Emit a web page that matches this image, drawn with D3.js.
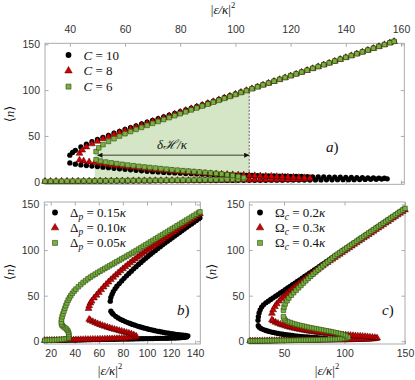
<!DOCTYPE html>
<html>
<head>
<meta charset="utf-8">
<script src="https://d3js.org/d3.v7.min.js"></script>
<style>
body { margin: 0; background: #fff; }
</style>
</head>
<body>
<script>
// ---------- panel a) data : C = 10, 8, 6 ----------
const aLowX = [31,33,35,37,39,41,43,45,47,49,51,53,55,57,59,61,63,65,67,69,71,73,75,77,79,81,83,85,87,89,91,93,95,97,99,101,103,105,107,109,111,113,115,117,119,121,123,125,127,129,131,133,135,137,139,141,143,145,147,149,151,153,155];
const aLowN10 = [0.3,0.3,0.4,0.4,0.4,0.5,0.5,0.5,0.6,0.6,0.6,0.7,0.7,0.7,0.8,0.8,0.8,0.9,0.9,0.9,1.0,1.0,1.0,1.1,1.1,1.1,1.2,1.2,1.2,1.3,1.3,1.3,1.4,1.4,1.4,1.5,1.5,1.5,1.6,1.6,1.6,1.7,1.7,1.7,1.8,1.8,1.8,1.9,1.9,2.0,2.0,2.1,2.1,2.2,2.2,2.3,2.3,2.4,2.5,2.6,2.7,2.9,3.2];
const aLowN8 = [0.4,0.4,0.5,0.5,0.5,0.6,0.6,0.7,0.7,0.7,0.8,0.8,0.9,0.9,0.9,1.0,1.0,1.1,1.1,1.1,1.2,1.2,1.3,1.3,1.3,1.4,1.4,1.5,1.5,1.5,1.6,1.6,1.7,1.7,1.8,1.8,1.9,1.9,2.0,2.0,2.1,2.2,2.2,2.3,2.4,2.5,2.6,2.8,3.1];
const aLowN6 = [0.5,0.5,0.6,0.6,0.7,0.7,0.8,0.8,0.9,0.9,1.0,1.0,1.1,1.1,1.2,1.2,1.3,1.3,1.4,1.4,1.5,1.5,1.6,1.6,1.7,1.8,1.8,1.9,2.0,2.1,2.1,2.2,2.3,2.5,2.6,2.8,3.2];
const aMid10 = [[154,3.8],[152,4.0],[150,4.2],[148,4.3],[146,4.4],[144,4.5],[142,4.6],[140,4.8],[138,4.9],[136,5.0],[134,5.1],[132,5.2],[130,5.3],[128,5.4],[126,5.5],[124,5.7],[122,5.8],[120,5.9],[118,6.0],[116,6.2],[114,6.3],[112,6.4],[110,6.5],[108,6.7],[106,6.8],[104,7.0],[102,7.1],[100,7.2],[98,7.4],[96,7.6],[94,7.7],[92,7.9],[90,8.1],[88,8.3],[86,8.5],[84,8.8],[82,9.0],[80,9.3],[78,9.6],[76,9.9],[74,10.2],[72,10.6],[70,11],[68,11.4],[66,11.9],[64,12.4],[62,13],[60,13.5],[58,14.1],[56,14.7],[54,15.3],[52,15.9],[50,16.5],[48,17.1],[46,17.7],[44,18.4],[42,19.2],[40,20.5]];
const aUp10 = [[40,29],[41,32],[42,34.3],[44,38],[46,41],[48,43.7],[50,46.2],[52,48.5],[54,50.7],[56,52.9],[58,55],[60,57],[62,59],[64,61],[66,63],[68,65],[70,67],[72,68.9],[74,70.8],[76,72.7],[78,74.6],[80,76.5],[82,78.4],[84,80.3],[86,82.2],[88,84.1],[90,86],[92,88],[94,90],[96,92],[98,94],[100,96],[102,98],[104,100],[106,102],[108,104],[110,106],[112,108],[114,110],[116,112],[118,114],[120,116],[122,118],[124,120],[126,122],[128,124],[130,126],[132,128],[134,130],[136,132],[138,134],[140,136],[142,138],[144,140],[146,142],[148,144],[150,146],[152,148],[154,150],[156,152],[157.5,153.5]];
const aMid8 = [[127,3.9],[125,4.3],[123,4.6],[121,4.9],[119,5.2],[117,5.4],[115,5.6],[113,5.9],[111,6.1],[109,6.3],[107,6.6],[105,6.8],[103,7.1],[101,7.3],[99,7.6],[97,7.9],[95,8.2],[93,8.5],[91,8.8],[89,9.1],[87,9.5],[85,9.9],[83,10.3],[81,10.7],[79,11.1],[77,11.6],[75,12.1],[73,12.6],[71,13.1],[69,13.7],[67,14.3],[65,14.9],[63,15.5],[61,16.2],[59,16.9],[57,17.6],[55,18.3],[53,19.1],[51,19.9],[49,20.7],[47,21.6],[45,22.6],[43.5,23.6]];
const aUp8 = [[43.5,31],[44.5,34.5],[46,38],[48,41.3],[50,44.2],[52,46.8],[54,49.2],[56,51.5],[58,53.7],[60,55.8],[62,57.8],[64,59.8],[66,61.8],[68,63.8],[70,65.8],[72,67.8],[74,69.8],[76,71.8],[78,73.8],[80,75.8],[82,77.8],[84,79.7],[86,81.6],[88,83.5],[90,85.4],[92,87.4],[94,89.4],[96,91.4],[98,93.4],[100,95.5],[102,97.5],[104,99.5],[106,101.5],[108,103.5],[110,105.5],[112,107.5],[114,109.5],[116,111.5],[118,113.5],[120,115.5],[122,117.5],[124,119.5],[126,121.5],[128,123.5],[130,125.5],[132,127.5],[134,129.5],[136,131.5],[138,133.5],[140,135.5],[142,137.5],[144,139.5],[146,141.5],[148,143.5],[150,145.5],[152,147.5],[154,149.5],[156,151.5],[157.5,153]];
const aMid6 = [[103,4.6],[101,5.8],[99,6.9],[97,7.7],[95,8.4],[93,9.0],[91,9.6],[89,10.1],[87,10.6],[85,11.1],[83,11.6],[81,12.1],[79,12.6],[77,13.1],[75,13.7],[73,14.3],[71,14.9],[69,15.5],[67,16.1],[65,16.8],[63,17.5],[61,18.2],[59,19.0],[57,19.8],[55,20.6],[53,21.5],[51,22.6],[49.5,24]];
const aUp6 = [[49.5,33],[50.5,37],[52,40.5],[54,44],[56,47],[58,49.8],[60,52.4],[62,54.8],[64,57.1],[66,59.3],[68,61.5],[70,63.7],[72,65.8],[74,67.9],[76,70],[78,72.1],[80,74.2],[82,76.3],[84,78.4],[86,80.5],[88,82.6],[90,84.7],[92,86.8],[94,88.9],[96,91],[98,93.1],[100,95.2],[102,97.3],[104,99.4],[106,101.5],[108,103.6],[110,105.7],[112,107.7],[114,109.7],[116,111.7],[118,113.7],[120,115.7],[122,117.7],[124,119.7],[126,121.7],[128,123.7],[130,125.7],[132,127.7],[134,129.7],[136,131.7],[138,133.7],[140,135.7],[142,137.7],[144,139.7],[146,141.7],[148,143.7],[150,145.7],[152,147.7],[154,149.7],[156,151.7],[157.5,153.2]];
const hystLeft = 49, hystRight = 105, arrowN = 29;

// ---------- panel b) data : Delta_p = 0.15, 0.10, 0.05 kappa ----------
const bLowX = [15,17,19,21,23,25,27,29,31,33,35,37,39,41,43,45,47,49,51,53,55,57,59,61,63,65,67,69,71,73,75,77,79,81,83,85,87,89,91,93,95,97,99,101,103,105,107,109,111,113,115,117,119,121,123,125,127,129,131,133];
const bLowN15 = [0.8,0.8,0.9,0.9,1.0,1.0,1.1,1.1,1.2,1.2,1.3,1.3,1.4,1.4,1.5,1.5,1.6,1.6,1.7,1.7,1.8,1.8,1.9,1.9,2.0,2.0,2.1,2.1,2.2,2.2,2.3,2.3,2.4,2.4,2.5,2.5,2.6,2.6,2.7,2.7,2.8,2.8,2.9,2.9,3.0,3.0,3.1,3.1,3.2,3.2,3.3,3.3,3.4,3.5,3.6,3.7,3.8,4.0,4.2,4.6];
const bLowN10 = [0.9,0.9,1.0,1.0,1.1,1.1,1.2,1.2,1.3,1.4,1.4,1.5,1.5,1.6,1.7,1.7,1.8,1.9,1.9,2.0,2.1,2.1,2.2,2.3,2.3,2.4,2.5,2.6,2.7,2.8,2.9,3.0,3.1,3.2,3.4,3.6,3.8,4.2,4.8];
const bLowN05 = [1.0,1.1,1.2,1.3,1.4,1.6,1.8,2.0,2.3,2.7,3.3];
const bMid15 = [[134,6],[132,6.4],[130,6.7],[128,7],[126,7.3],[124,7.6],[122,8],[120,8.4],[118,8.8],[116,9.2],[114,9.7],[112,10.2],[110,10.7],[108,11.2],[106,11.8],[104,12.4],[102,13],[100,13.7],[98,14.4],[96,15.1],[94,15.9],[92,16.7],[90,17.6],[88,18.5],[86,19.5],[84,20.5],[82,21.6],[80,22.8],[78,24.1],[76,25.6],[74,27.3],[72,29.5],[71,31],[70,33]];
const bUp15 = [[69.5,44],[70,48],[71,51.5],[72,54.5],[73.5,57.5],[75,60.3],[77,63.3],[79,66.2],[81,69],[83,71.7],[85,74.3],[87,76.9],[89,79.4],[91,81.8],[93,84.2],[95,86.5],[97,88.8],[99,91],[101,93.2],[103,95.4],[105,97.5],[107,99.6],[109,101.7],[111,103.7],[113,105.7],[115,107.7],[117,109.7],[119,111.6],[121,113.5],[123,115.4],[125,117.3],[127,119.2],[129,121.1],[131,123],[133,124.9],[135,126.8],[137,128.7],[139,130.6],[141,132.5],[143,134.4],[144,135.3]];
const bMid10 = [[91,5.5],[89,7],[87,8],[85,8.8],[83,9.5],[81,10.2],[79,10.9],[77,11.6],[75,12.3],[73,13],[71,13.8],[69,14.6],[67,15.4],[65,16.3],[63,17.2],[61,18.2],[59,19.2],[57,20.3],[55,21.5],[53,22.8],[52,24]];
const bUp10 = [[51.5,36],[52,39],[53,42],[54,44],[56,47.5],[58,50.5],[60,53.5],[62,56.5],[64,59.5],[66,62.3],[68,65],[70,67.6],[72,70.1],[74,72.5],[76,74.9],[78,77.2],[80,79.5],[82,81.7],[84,83.9],[86,86],[88,88.1],[90,90.1],[92,92.1],[94,94],[96,95.9],[98,97.8],[100,99.7],[102,101.5],[104,103.3],[106,105.1],[108,106.9],[110,108.6],[112,110.4],[114,112.3],[116,114.1],[118,116],[120,117.8],[122,119.6],[124,121.5],[126,123.3],[128,125.2],[130,127],[132,128.8],[134,130.7],[136,132.5],[138,134.4],[140,136.2],[142,138],[144,139.9]];
const bMid05 = [[35,4],[35.2,6],[35.1,8],[34.7,10],[34,12],[33,13.5],[31.8,14.8],[30.5,16],[29.5,17.5],[29,19]];
const bUp05 = [[28.8,21],[29,24],[29.5,27],[30.2,30],[31,33],[31.8,36],[32.6,39],[33.5,42],[34.5,45],[35.5,47.5],[36.7,50],[38,52.5],[39.5,55],[41,57.2],[43,59.8],[45,62.2],[47,64.5],[49,66.5],[51,68.5],[53,70.3],[55,72],[57,73.6],[59,75.2],[61,76.8],[63,78.3],[65,79.8],[67,81.3],[69,82.8],[71,84.3],[73,85.8],[75,87.3],[77,88.8],[79,90.3],[81,91.8],[83,93.3],[85,94.8],[87,96.3],[89,97.8],[91,99.4],[93,101],[95,102.6],[97,104.2],[99,105.8],[101,107.4],[103,109],[105,110.6],[107,112.2],[109,113.8],[111,115.4],[113,117],[115,118.6],[117,120.2],[119,121.8],[121,123.4],[123,125],[125,126.6],[127,128.2],[129,129.8],[131,131.4],[133,133],[135,134.6],[137,136.2],[139,137.8],[141,139.4],[143,141],[144,141.8]];

// ---------- panel c) data : Omega_c = 0.2, 0.3, 0.4 kappa ----------
const cLowX = [22,24,26,28,30,32,34,36,38,40,42,44,46,48,50,52,54,56,58,60,62,64,66,68,70,72,74,76,78,80,82,84,86,88,90,92,94,96,98,100,102,104,106,108,110,112,114,116,118,120,122,124,126];
const cLowN02 = [0.3,0.3,0.4,0.4,0.5,0.5,0.6,0.6,0.7,0.7,0.8,0.8,0.9,0.9,1.0,1.0,1.1,1.1,1.2,1.2,1.3,1.3,1.4,1.4,1.5,1.6,1.7,1.8,1.9,2.0,2.2,2.5];
const cLowN03 = [0.3,0.3,0.4,0.4,0.4,0.5,0.5,0.5,0.6,0.6,0.6,0.7,0.7,0.7,0.8,0.8,0.8,0.9,0.9,0.9,1.0,1.0,1.0,1.1,1.1,1.1,1.2,1.2,1.2,1.3,1.3,1.3,1.4,1.4,1.4,1.5,1.5,1.5,1.6,1.6,1.7,1.7,1.8,1.8,1.9,1.9,2.0,2.1,2.2,2.3,2.4,2.6,3.0];
const cLowN04 = [0.3,0.3,0.4,0.4,0.5,0.5,0.5,0.6,0.6,0.7,0.7,0.8,0.8,0.8,0.9,0.9,1.0,1.0,1.1,1.1,1.2,1.2,1.3,1.3,1.4,1.4,1.5,1.5,1.6,1.7,1.8,1.8,1.9,2.0,2.1,2.2,2.3,2.5,2.7,3.0,3.5];
const cMid02 = [[85,3],[83,3.3],[81,3.5],[79,3.7],[77,3.9],[75,4.1],[73,4.3],[71,4.5],[69,4.7],[67,4.9],[65,5.1],[63,5.4],[61,5.7],[59,6],[57,6.3],[55,6.6],[53,6.9],[51,7.3],[49,7.7],[47,8.1],[45,8.6],[43,9.1],[41,9.7],[39,10.3],[37,11],[35,11.8],[33,12.8],[31,14],[29.5,15.5],[28.7,17]];
const cUp02 = [[28.5,23],[28.8,27],[29.4,31],[30.3,34.5],[31.5,37.5],[33,40],[35,42.2],[37,44],[39,45.8],[41,47.6],[43,49.4],[45,51.2],[47,53],[49,54.8],[51,56.6],[53,58.4],[55,60.2],[57,62],[59,63.8],[61,65.6],[63,67.4],[65,69.2],[67,71],[69,72.8],[71,74.6],[73,76.4],[75,78.2],[77,80],[79,81.8],[81,83.6],[83,85.4],[85,87.2],[87,89],[89,90.8],[91,92.6],[93,94.4],[95,96.2],[97,98],[99,99.8],[101,101.6],[103,103.4],[105,105.2],[107,107],[109,108.8],[111,110.6],[113,112.4],[115,114.2],[117,116],[119,117.8],[121,119.6],[123,121.4],[125,123.2],[127,125],[129,126.8],[131,128.6],[133,130.4],[135,132.2],[137,134],[139,135.8],[141,137.6],[143,139.4],[145,141.2],[147,143],[149,144.8]];
const cMid03 = [[127,3.5],[125,4],[123,4.3],[121,4.6],[119,4.9],[117,5.1],[115,5.3],[113,5.5],[111,5.7],[109,5.9],[107,6.1],[105,6.3],[103,6.5],[101,6.7],[99,6.9],[97,7.1],[95,7.4],[93,7.6],[91,7.9],[89,8.1],[87,8.4],[85,8.7],[83,9],[81,9.3],[79,9.6],[77,9.9],[75,10.3],[73,10.7],[71,11.1],[69,11.5],[67,12],[65,12.5],[63,13],[61,13.5],[59,14.1],[57,14.7],[55,15.4],[53,16.1],[51,16.9],[49,17.7],[47,18.6],[45,19.6],[43,20.8],[41,22.2],[40,23.5]];
const cUp03 = [[40,30.6],[41,34.5],[42.5,38],[44,41],[46,44],[48,46.8],[50,49.4],[52,51.9],[54,54.3],[56,56.6],[58,58.8],[60,61],[62,63.1],[64,65.1],[66,67.1],[68,69.1],[70,71],[72,73],[74,75],[76,77],[78,79],[80,80.9],[82,82.8],[84,84.6],[86,86.4],[88,88.2],[90,90],[92,91.8],[94,93.6],[96,95.4],[98,97.2],[100,99],[102,100.8],[104,102.6],[106,104.4],[108,106.2],[110,108],[112,109.8],[114,111.6],[116,113.4],[118,115.2],[120,117],[122,118.8],[124,120.6],[126,122.4],[128,124.2],[130,126],[132,127.8],[134,129.6],[136,131.4],[138,133.2],[140,135],[142,136.8],[144,138.6],[146,140.4],[148,142.2],[150,144]];
const cMid04 = [[103,4.5],[101,6.2],[99,7.2],[97,8],[95,8.7],[93,9.3],[91,9.9],[89,10.5],[87,11],[85,11.5],[83,12],[81,12.5],[79,13],[77,13.5],[75,14],[73,14.5],[71,15],[69,15.6],[67,16.2],[65,16.8],[63,17.4],[61,18.1],[59,18.8],[57,19.6],[55,20.5],[53,21.6],[51,23],[50,24.8],[49.5,27]];
const cUp04 = [[49.5,34],[50,37.5],[51,41],[52.5,44.5],[54,47.5],[56,50.5],[58,53.3],[60,56],[62,58.6],[64,61.2],[66,63.8],[68,66.3],[70,68.8],[72,71.2],[74,73.6],[76,76],[78,78.3],[80,80.6],[82,82.8],[84,85],[86,87.1],[88,89.2],[90,91.3],[92,93.4],[94,95.3],[96,97.1],[98,98.9],[100,100.7],[102,102.5],[104,104.3],[106,106.1],[108,107.9],[110,109.7],[112,111.5],[114,113.3],[116,115.1],[118,116.9],[120,118.7],[122,120.5],[124,122.3],[126,124.1],[128,125.9],[130,127.7],[132,129.5],[134,131.3],[136,133.1],[138,134.9],[140,136.7],[142,138.5],[144,140.3],[146,142.1],[148,143.9],[150,145.7]];

// ---------- tick labels ----------
const nTicks = [0, 50, 100, 150];
const aXTicks = [40, 60, 80, 100, 120, 140, 160];
const bXTicks = [20, 40, 60, 80, 100, 120, 140];
const cXTicks = [50, 100, 150];

const serif = '"Liberation Serif", "DejaVu Serif", serif';
const sans = '"Liberation Sans", Arial, sans-serif';

const svg = d3.select('body').append('svg')
    .attr('width', 415)
    .attr('height', 380);

const styles = [
    { type: d3.symbolCircle, size: 22, fill: '#000', stroke: 'none', sw: 0 },
    { type: d3.symbolTriangle, size: 20, fill: '#d40000', stroke: '#3a0000', sw: 0.5 },
    { type: d3.symbolSquare, size: 21, fill: '#79b03e', stroke: '#2e4a12', sw: 0.6 }
];

function pairs(xs, ns) {
    return d3.zip(xs, ns);
}

// text with italic / sub / sup pieces
function mathText(g, x, y, parts, size, anchor) {
    const t = g.append('text')
        .attr('x', x).attr('y', y)
        .attr('font-family', serif)
        .attr('font-size', size)
        .attr('fill', '#111')
        .attr('text-anchor', anchor || 'start');
    parts.forEach(p => {
        const s = t.append('tspan').text(p.t);
        if (p.i) s.attr('font-style', 'italic');
        if (p.dy) s.attr('dy', p.dy);
        if (p.fs) s.attr('font-size', p.fs);
    });
    return t;
}

const nLabel = [{ t: '\u27E8' }, { t: 'n', i: 1 }, { t: '\u27E9' }];
const epsLabel = [{ t: '|' }, { t: '\u03B5/\u03BA', i: 1 }, { t: '|' }, { t: '2', dy: -6, fs: 8.5 }];

function drawPanel(p) {
    const x = d3.scaleLinear().domain(p.xDomain).range([p.left, p.right]);
    const y = d3.scaleLinear().domain(p.yDomain).range([p.bottom, p.top]);
    const g = svg.append('g');

    if (p.extras) p.extras(g, x, y);

    // frame
    g.append('rect')
        .attr('x', p.left).attr('y', p.top)
        .attr('width', p.right - p.left).attr('height', p.bottom - p.top)
        .attr('fill', 'none').attr('stroke', '#a3a3a3').attr('stroke-width', 0.9);

    const axes = [
        [d3.axisLeft(y).tickValues(nTicks).tickSize(-3.5).tickPadding(5), `translate(${p.left},0)`, true],
        [d3.axisRight(y).tickValues(nTicks).tickSize(-3.5).tickFormat(''), `translate(${p.right},0)`, false],
        [d3.axisTop(x).tickValues(p.xTicks).tickSize(-3.5).tickPadding(10), `translate(0,${p.top})`, p.xTop],
        [d3.axisBottom(x).tickValues(p.xTicks).tickSize(-3.5).tickPadding(6), `translate(0,${p.bottom})`, !p.xTop]
    ];
    axes.forEach(([ax, tr, labels]) => {
        if (!labels) ax.tickFormat('');
        const a = g.append('g').attr('transform', tr).call(ax);
        a.select('.domain').remove();
        a.selectAll('line').attr('stroke', '#a3a3a3').attr('stroke-width', 0.9);
        a.selectAll('text').attr('font-family', sans).attr('font-size', 10.5).attr('fill', '#333');
    });

    // markers, black first then red then green
    p.series.forEach((branches, si) => {
        const st = styles[si];
        const sym = d3.symbol().type(st.type).size(st.size);
        branches.forEach(br => {
            g.append('g').selectAll('path')
                .data(br)
                .join('path')
                .attr('d', sym)
                .attr('transform', d => `translate(${x(d[0])},${y(d[1])})`)
                .attr('fill', st.fill)
                .attr('stroke', st.stroke)
                .attr('stroke-width', st.sw);
        });
    });

    // legend
    p.legend.forEach((parts, i) => {
        const st = styles[i];
        const ly = p.legY + i * p.legDy;
        g.append('path')
            .attr('d', d3.symbol().type(st.type).size(st.size + 4)())
            .attr('transform', `translate(${p.legX},${ly})`)
            .attr('fill', st.fill).attr('stroke', st.stroke).attr('stroke-width', st.sw);
        mathText(g, p.legX + 15, ly + 4.5, parts, 13);
    });

    // panel tag
    mathText(g, p.tag[0], p.tag[1], [{ t: p.tag[2], i: 1 }, { t: ')' }], 15);

    // axis labels
    const yl = g.append('g').attr('transform', `translate(${p.yLab[0]},${p.yLab[1]}) rotate(-90)`);
    mathText(yl, 0, 0, nLabel, 13, 'middle');
    mathText(g, p.xLab[0], p.xLab[1], epsLabel, 13, 'middle');
}

// arrow heads
const defs = svg.append('defs');
['start', 'end'].forEach(k => {
    defs.append('marker')
        .attr('id', 'arr-' + k)
        .attr('viewBox', '0 0 10 10')
        .attr('refX', k === 'end' ? 10 : 0).attr('refY', 5)
        .attr('markerWidth', 7).attr('markerHeight', 5)
        .attr('markerUnits', 'userSpaceOnUse')
        .attr('orient', 'auto')
        .append('path')
        .attr('d', k === 'end' ? 'M0,0 L10,5 L0,10 z' : 'M10,0 L0,5 L10,10 z')
        .attr('fill', '#111');
});

// ---- panel a ----
drawPanel({
    left: 45, right: 404.3, top: 43.3, bottom: 184.3,
    xDomain: [31, 161.2], yDomain: [-2.8, 151.1],
    xTicks: aXTicks, xTop: true,
    series: [
        [pairs(aLowX, aLowN10), aMid10, aUp10],
        [pairs(aLowX, aLowN8), aMid8, aUp8],
        [pairs(aLowX, aLowN6), aMid6, aUp6]
    ],
    legend: [
        [{ t: 'C', i: 1 }, { t: ' = 10' }],
        [{ t: 'C', i: 1 }, { t: ' = 8' }],
        [{ t: 'C', i: 1 }, { t: ' = 6' }]
    ],
    legX: 68.5, legY: 55, legDy: 15.8,
    tag: [326, 152, 'a'],
    yLab: [14, 114],
    xLab: [223, 14],
    extras: (g, x, y) => {
        // shaded hysteresis area under the C = 6 upper branch
        const up = aUp6.filter(d => d[0] <= hystRight);
        const i = d3.bisector(d => d[0]).left(aUp6, hystRight);
        const a0 = aUp6[i - 1], a1 = aUp6[i];
        const topR = a0[1] + (a1[1] - a0[1]) * (hystRight - a0[0]) / (a1[0] - a0[0]);
        const poly = [[hystLeft, 0], [hystLeft, up[0][1]]].concat(up, [[hystRight, topR], [hystRight, 0]]);
        g.append('path')
            .attr('d', d3.line().x(d => x(d[0])).y(d => y(d[1]))(poly) + 'Z')
            .attr('fill', '#d5e6c6');
        g.append('line')
            .attr('x1', x(hystRight)).attr('x2', x(hystRight))
            .attr('y1', y(0)).attr('y2', y(topR))
            .attr('stroke', '#222').attr('stroke-width', 0.7)
            .attr('stroke-dasharray', '2,1.5');
        g.append('line')
            .attr('x1', x(hystLeft + 1)).attr('x2', x(hystRight))
            .attr('y1', y(arrowN)).attr('y2', y(arrowN))
            .attr('stroke', '#111').attr('stroke-width', 0.8)
            .attr('marker-start', 'url(#arr-start)')
            .attr('marker-end', 'url(#arr-end)');
        mathText(g, x((hystLeft + hystRight) / 2), y(arrowN) - 6,
            [{ t: '\u03B4\u210B/\u03BA', i: 1 }], 13, 'middle');
    }
});

// ---- panel b ----
drawPanel({
    left: 44.3, right: 200.3, top: 202, bottom: 344,
    xDomain: [14.7, 144.3], yDomain: [-3, 152.7],
    xTicks: bXTicks, xTop: false,
    series: [
        [pairs(bLowX, bLowN15), bMid15, bUp15],
        [pairs(bLowX, bLowN10), bMid10, bUp10],
        [pairs(bLowX, bLowN05), bMid05, bUp05]
    ],
    legend: [
        [{ t: '\u0394' }, { t: 'p', i: 1, dy: 3, fs: 9.5 }, { t: ' = 0.15', dy: -3 }, { t: '\u03BA', i: 1 }],
        [{ t: '\u0394' }, { t: 'p', i: 1, dy: 3, fs: 9.5 }, { t: ' = 0.10', dy: -3 }, { t: '\u03BA', i: 1 }],
        [{ t: '\u0394' }, { t: 'p', i: 1, dy: 3, fs: 9.5 }, { t: ' = 0.05', dy: -3 }, { t: '\u03BA', i: 1 }]
    ],
    legX: 55, legY: 212.5, legDy: 15.2,
    tag: [177, 315, 'b'],
    yLab: [14, 272],
    xLab: [110, 375]
});

// ---- panel c ----
drawPanel({
    left: 249.3, right: 405, top: 202, bottom: 344,
    xDomain: [21.3, 150], yDomain: [-3, 152.7],
    xTicks: cXTicks, xTop: false,
    series: [
        [pairs(cLowX, cLowN02), cMid02, cUp02],
        [pairs(cLowX, cLowN03), cMid03, cUp03],
        [pairs(cLowX, cLowN04), cMid04, cUp04]
    ],
    legend: [
        [{ t: '\u03A9' }, { t: 'c', i: 1, dy: 3, fs: 9.5 }, { t: ' = 0.2', dy: -3 }, { t: '\u03BA', i: 1 }],
        [{ t: '\u03A9' }, { t: 'c', i: 1, dy: 3, fs: 9.5 }, { t: ' = 0.3', dy: -3 }, { t: '\u03BA', i: 1 }],
        [{ t: '\u03A9' }, { t: 'c', i: 1, dy: 3, fs: 9.5 }, { t: ' = 0.4', dy: -3 }, { t: '\u03BA', i: 1 }]
    ],
    legX: 260, legY: 212.5, legDy: 15.2,
    tag: [382, 315, 'c'],
    yLab: [216, 272],
    xLab: [327, 375]
});
</script>
</body>
</html>
